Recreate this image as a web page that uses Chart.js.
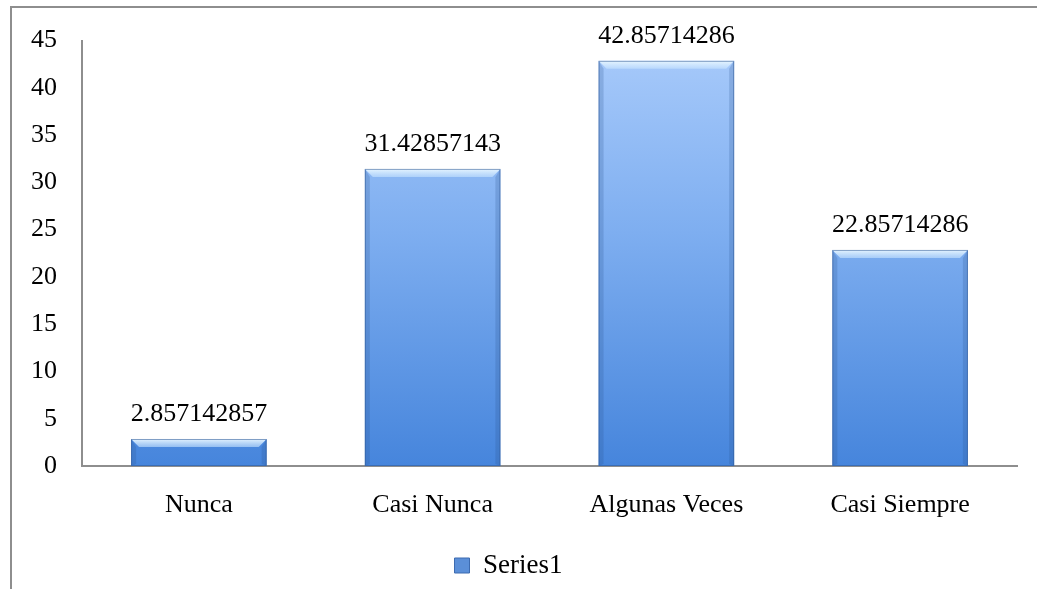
<!DOCTYPE html>
<html>
<head>
<meta charset="utf-8">
<script src="https://cdn.jsdelivr.net/npm/chart.js@4"></script>
<style>
  html, body { margin: 0; padding: 0; background: #fff; }
  #wrap { position: relative; width: 1037px; height: 589px; overflow: hidden; }
  #frame { position: absolute; left: 10px; top: 6px; width: 1100px; height: 700px;
           border-top: 2px solid #8e8e8e; border-left: 2px solid #8e8e8e; }
  canvas { position: absolute; left: 0; top: 0; }
</style>
</head>
<body>
<div id="wrap">
  <div id="frame"></div>
  <canvas id="grafico" width="1037" height="589"></canvas>
</div>
<script>
const categorias = ["Nunca", "Casi Nunca", "Algunas Veces", "Casi Siempre"];
const valores = [2.857142857, 31.42857143, 42.85714286, 22.85714286];
const nombreSerie = "Series1";
const yMax = 45;
const yPaso = 5;

const fuente = "'Liberation Serif', 'DejaVu Serif', serif";

function degradado(context) {
  const chart = context.chart;
  const area = chart.chartArea;
  if (!area) return "#6fa3ec";
  const g = chart.ctx.createLinearGradient(0, area.top, 0, area.bottom);
  g.addColorStop(0, "#a9cbfb");
  g.addColorStop(0.45, "#7eaef0");
  g.addColorStop(1, "#4685dc");
  return g;
}

// efecto biselado y etiquetas de valor encima de cada barra
const biselYEtiquetas = {
  id: "biselYEtiquetas",
  afterDatasetsDraw(chart) {
    const ctx = chart.ctx;
    const meta = chart.getDatasetMeta(0);
    meta.data.forEach((bar, i) => {
      const left = bar.x - bar.width / 2;
      const right = bar.x + bar.width / 2;
      const top = bar.y;
      const base = bar.base;
      const b = Math.min(8, (base - top) / 2);
      const s = Math.min(5, (base - top) / 2);
      ctx.save();
      // brillo superior
      const gt = ctx.createLinearGradient(0, top, 0, top + b);
      gt.addColorStop(0, "rgba(235,248,255,0.95)");
      gt.addColorStop(1, "rgba(200,228,255,0.6)");
      ctx.fillStyle = gt;
      ctx.beginPath();
      ctx.moveTo(left, top);
      ctx.lineTo(right, top);
      ctx.lineTo(right - b, top + b);
      ctx.lineTo(left + b, top + b);
      ctx.closePath();
      ctx.fill();
      // bordes laterales
      ctx.fillStyle = "rgba(40,80,140,0.22)";
      ctx.beginPath();
      ctx.moveTo(left, top);
      ctx.lineTo(left + s, top + b);
      ctx.lineTo(left + s, base - 2);
      ctx.lineTo(left, base);
      ctx.closePath();
      ctx.fill();
      ctx.beginPath();
      ctx.moveTo(right, top);
      ctx.lineTo(right - s, top + b);
      ctx.lineTo(right - s, base - 2);
      ctx.lineTo(right, base);
      ctx.closePath();
      ctx.fill();
      // contorno
      ctx.strokeStyle = "rgba(50,90,150,0.55)";
      ctx.lineWidth = 1;
      ctx.strokeRect(left + 0.5, top + 0.5, bar.width - 1, base - top - 1);
      // etiqueta
      ctx.fillStyle = "#000";
      ctx.font = "26px " + fuente;
      ctx.textAlign = "center";
      ctx.textBaseline = "alphabetic";
      ctx.fillText(String(valores[i]), bar.x, top - 18);
      ctx.restore();
    });
  }
};

const ctx = document.getElementById("grafico");

new Chart(ctx, {
  type: "bar",
  data: {
    labels: categorias,
    datasets: [
      {
        label: nombreSerie,
        data: valores,
        backgroundColor: degradado,
        borderWidth: 0,
        barPercentage: 0.58,
        categoryPercentage: 1.0
      }
    ]
  },
  options: {
    responsive: false,
    animation: false,
    layout: {
      padding: { top: 35, right: 20, bottom: 0, left: 0 }
    },
    scales: {
      x: {
        grid: { display: false, drawTicks: false },
        border: { display: true, color: "#8e8e8e", width: 2 },
        ticks: { color: "#000", font: { family: fuente, size: 26 }, padding: 24 },
        afterFit(scale) { scale.height = 76; }
      },
      y: {
        min: 0,
        max: yMax,
        grid: { display: false, drawTicks: false },
        border: { display: true, color: "#8e8e8e", width: 2 },
        ticks: { stepSize: yPaso, color: "#000", font: { family: fuente, size: 26 }, padding: 25 },
        afterFit(scale) { scale.width = 82; }
      }
    },
    plugins: {
      legend: {
        position: "bottom",
        labels: {
          color: "#000",
          font: { family: fuente, size: 27 },
          boxWidth: 15,
          boxHeight: 15,
          padding: 10,
          generateLabels(chart) {
            return [{
              text: nombreSerie,
              fillStyle: "#5b8fd8",
              strokeStyle: "#3d6bb0",
              lineWidth: 1,
              datasetIndex: 0
            }];
          }
        }
      },
      tooltip: { enabled: false }
    }
  },
  plugins: [biselYEtiquetas]
});
</script>
</body>
</html>
